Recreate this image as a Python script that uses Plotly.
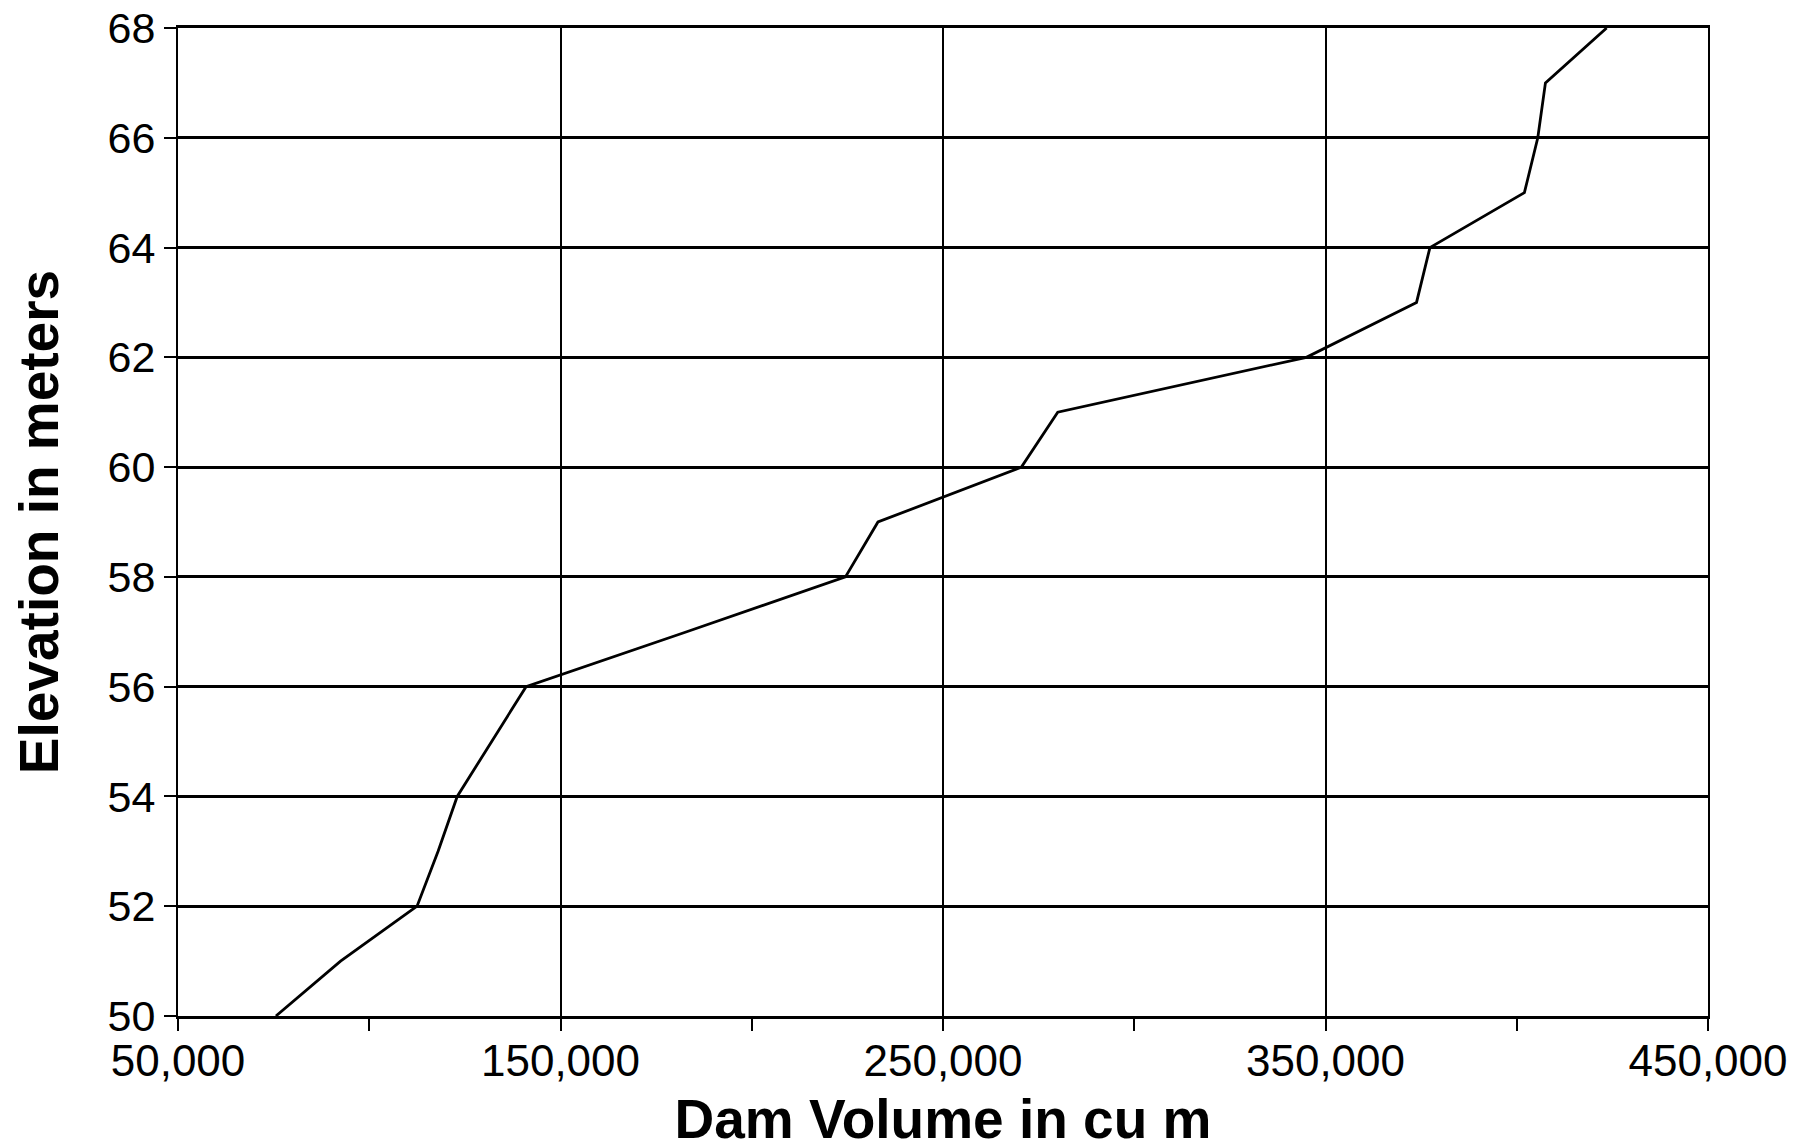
import plotly.graph_objects as go

elevation_m = [50, 51, 52, 53, 54, 55, 56, 57, 58, 59, 60, 61, 62, 63, 64, 65, 66, 67, 68]
dam_volume_cum = [75600, 92500, 112500, 118000, 123000, 132000, 141000, 183000, 224500,
                  233000, 270500, 280000, 345000, 373800, 377300, 402000, 405500, 407500, 423500]

x_tickvals = [50000, 150000, 250000, 350000, 450000]
x_ticktext = ["50,000", "150,000", "250,000", "350,000", "450,000"]
y_tickvals = [50, 52, 54, 56, 58, 60, 62, 64, 66, 68]

FONT = "Liberation Sans, Arial, Helvetica, sans-serif"

fig = go.Figure()
fig.add_trace(go.Scatter(
    x=dam_volume_cum, y=elevation_m, mode="lines",
    line=dict(color="black", width=2.8), showlegend=False,
))

fig.update_layout(
    width=1815, height=1148,
    margin=dict(l=170, r=115, t=20, b=140),
    paper_bgcolor="white", plot_bgcolor="white",
    font=dict(family=FONT, color="black"),
)
fig.update_xaxes(
    automargin=False,
    range=[50000, 450000],
    tickvals=x_tickvals, ticktext=x_ticktext,
    tickfont=dict(size=44, family=FONT),
    ticks="outside", ticklen=12, tickwidth=2, tickcolor="black",
    ticklabelstandoff=-8, ticklabeloverflow="allow",
    minor=dict(dtick=50000, tick0=50000, ticks="outside", ticklen=12, tickwidth=2,
               tickcolor="black", showgrid=False),
    showgrid=True, gridcolor="black", gridwidth=1.5,
    showline=True, linecolor="black", linewidth=3, mirror=True,
    zeroline=False,
    title=dict(text="<b>Dam Volume in cu m</b>", font=dict(size=55, family=FONT), standoff=16),
)
fig.update_yaxes(
    automargin=False,
    range=[50, 68],
    tickvals=y_tickvals,
    tickfont=dict(size=43, family=FONT),
    ticks="outside", ticklen=12, tickwidth=2, tickcolor="black",
    ticklabeloverflow="allow",
    showgrid=True, gridcolor="black", gridwidth=3,
    showline=True, linecolor="black", linewidth=2, mirror=True,
    zeroline=False,
    title=dict(text="<b>Elevation in meters</b>", font=dict(size=55, family=FONT), standoff=31),
)

fig.write_html("out.html")
